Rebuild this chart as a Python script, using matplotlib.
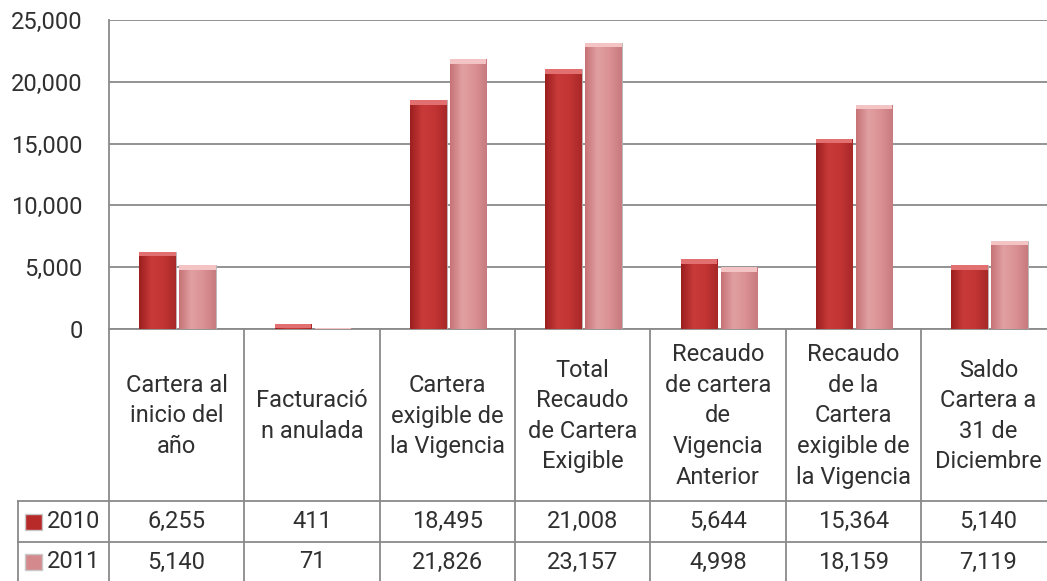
import matplotlib
matplotlib.use('Agg')
import matplotlib.pyplot as plt
import matplotlib.patches as mpatches
import numpy as np
from matplotlib.colors import LinearSegmentedColormap

plt.rcParams['font.family'] = ['Roboto', 'DejaVu Sans']

# data
categories = ['Cartera al\ninicio del\naño',
              'Facturació\nn anulada',
              'Cartera\nexigible de\nla Vigencia',
              'Total\nRecaudo\nde Cartera\nExigible',
              'Recaudo\nde cartera\nde\nVigencia\nAnterior',
              'Recaudo\nde la\nCartera\nexigible de\nla Vigencia',
              'Saldo\nCartera a\n31 de\nDiciembre']
series_names = ['2010', '2011']
vals_2010 = [6255, 411, 18495, 21008, 5644, 15364, 5140]
vals_2011 = [5140, 71, 21826, 23157, 4998, 18159, 7119]
yticks = [0, 5000, 10000, 15000, 20000, 25000]

W, H = 1047, 581
fig = plt.figure(figsize=(W / 100, H / 100), dpi=100)

# pixel layout
x0, colw = 109, 135.3
y_top, y_base = 20, 329
y_hdr, y_row = 501, 542
txt = '#303030'
grid_c = '#8a8a8a'
fs = 17

ax = fig.add_axes([x0 / W, (H - y_base) / H, 7 * colw / W, (y_base - y_top) / H])
ax.set_xlim(0, 7)
ax.set_ylim(0, 25000)
ax.set_yticks(yticks)
ax.set_yticklabels(['{:,}'.format(v) for v in yticks], fontsize=fs, color=txt)
ax.tick_params(axis='y', length=0, pad=19)
ax.set_xticks([])
ax.grid(axis='y', color=grid_c, lw=1.3)
ax.set_axisbelow(True)
for s in ['top', 'right']:
    ax.spines[s].set_visible(False)
for s in ['left', 'bottom']:
    ax.spines[s].set_color(grid_c)
    ax.spines[s].set_linewidth(1.3)

cmap_a = LinearSegmentedColormap.from_list('a', ['#9c1f1f', '#c83a3a', '#c33434', '#a82828'])
cmap_b = LinearSegmentedColormap.from_list('b', ['#c77376', '#e0a0a2', '#db9194', '#c77b7e'])
grad = np.linspace(0, 1, 64).reshape(1, -1)

xs = np.arange(7)
bw = 0.27
for vals, off, cm, col, cap in [(vals_2010, 0.36, cmap_a, '#c03030', '#e27070'),
                                (vals_2011, 0.655, cmap_b, '#d98a8c', '#f4c4c5')]:
    bars = ax.bar(xs + off, vals, width=bw, color=col, edgecolor='#b8b8b8', lw=0.6, zorder=3)
    for b in bars:
        im = ax.imshow(grad, cmap=cm, aspect='auto', zorder=3.5,
                       extent=[b.get_x(), b.get_x() + b.get_width(), 0, b.get_height()])
        im.set_clip_path(b)
        # light bevel on top of each column
        ch = min(350, b.get_height())
        ax.add_patch(mpatches.Rectangle((b.get_x(), b.get_height() - ch), b.get_width(), ch,
                                        facecolor=cap, edgecolor='none', zorder=3.6))
ax.set_xlim(0, 7)
ax.set_ylim(0, 25000)

# data table
tab = fig.add_axes([0, 0, 1, 1], zorder=-1)
tab.set_xlim(0, W)
tab.set_ylim(H, 0)
tab.axis('off')
bounds = [x0 + colw * k for k in range(8)]
for bx in bounds[1:]:
    tab.plot([bx, bx], [y_base, H], color=grid_c, lw=1.3)
tab.plot([x0, x0], [y_base, H], color=grid_c, lw=1.3)
tab.plot([18, 18], [y_hdr, H], color=grid_c, lw=1.3)
for yy in [y_hdr, y_row]:
    tab.plot([18, W], [yy, yy], color=grid_c, lw=1.3)

for i, c in enumerate(categories):
    cx = (bounds[i] + bounds[i + 1]) / 2
    tab.text(cx, (y_base + y_hdr) / 2 + 1, c, ha='center', va='center', fontsize=fs,
             color=txt, linespacing=1.42)
    tab.text(cx, (y_hdr + y_row) / 2, '{:,}'.format(vals_2010[i]), ha='center',
             va='center', fontsize=fs, color=txt)
    tab.text(cx, y_row + 20, '{:,}'.format(vals_2011[i]), ha='center',
             va='center', fontsize=fs, color=txt)

for name, yc, col in [(series_names[0], (y_hdr + y_row) / 2, '#b82a2a'),
                      (series_names[1], y_row + 20, '#d48a8d')]:
    tab.add_patch(mpatches.Rectangle((25, yc - 8), 17, 16, facecolor=col,
                                     edgecolor='#c8c8c8', lw=1))
    tab.text(47, yc, name, ha='left', va='center', fontsize=fs, color=txt)

fig.savefig('out.png', dpi=100)
